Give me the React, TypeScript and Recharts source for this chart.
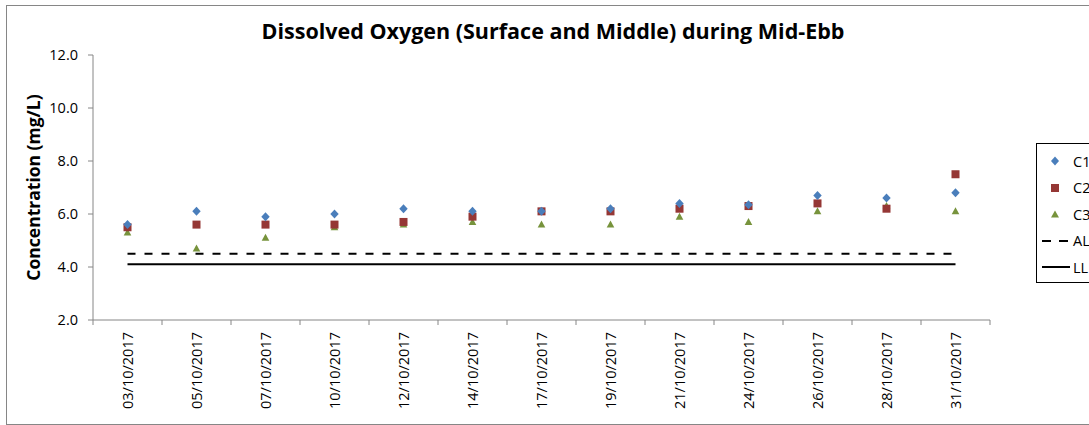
import { ComposedChart, Scatter, Line, XAxis, YAxis } from 'recharts'

const dates = [
  '03/10/2017',
  '05/10/2017',
  '07/10/2017',
  '10/10/2017',
  '12/10/2017',
  '14/10/2017',
  '17/10/2017',
  '19/10/2017',
  '21/10/2017',
  '24/10/2017',
  '26/10/2017',
  '28/10/2017',
  '31/10/2017'
]
const c1Values = [5.6, 6.1, 5.9, 6.0, 6.2, 6.1, 6.1, 6.2, 6.4, 6.35, 6.7, 6.6, 6.8]
const c2Values = [5.5, 5.6, 5.6, 5.6, 5.7, 5.9, 6.1, 6.1, 6.2, 6.3, 6.4, 6.2, 7.5]
const c3Values = [5.3, 4.7, 5.1, 5.5, 5.6, 5.7, 5.6, 5.6, 5.9, 5.7, 6.1, 6.3, 6.1]
const alValues = [4.5, 4.5, 4.5, 4.5, 4.5, 4.5, 4.5, 4.5, 4.5, 4.5, 4.5, 4.5, 4.5]
const llValues = [4.1, 4.1, 4.1, 4.1, 4.1, 4.1, 4.1, 4.1, 4.1, 4.1, 4.1, 4.1, 4.1]
const yTicks = [2, 4, 6, 8, 10, 12]

const C1_COLOR = '#4A7EBB'
const C2_COLOR = '#953735'
const C3_COLOR = '#77933C'
const AXIS_COLOR = '#868686'
const FONT = '"Open Sans", sans-serif'

const data = dates.map((date, i) => ({
  date,
  c1: c1Values[i],
  c2: c2Values[i],
  c3: c3Values[i],
  al: alValues[i],
  ll: llValues[i]
}))

function Diamond({ cx, cy }: any) {
  return <polygon points={`${cx},${cy - 4.5} ${cx + 4.2},${cy} ${cx},${cy + 4.5} ${cx - 4.2},${cy}`} fill={C1_COLOR} />
}

function Square({ cx, cy }: any) {
  return <rect x={cx - 4} y={cy - 4} width={8} height={8} fill={C2_COLOR} />
}

function Triangle({ cx, cy }: any) {
  return <polygon points={`${cx},${cy - 4} ${cx + 3.8},${cy + 3} ${cx - 3.8},${cy + 3}`} fill={C3_COLOR} />
}

function DateTick(props: any) {
  const { x, y, payload, index, visibleTicksCount } = props
  const half = payload.offset || 34.5
  const axisY = y - 11
  return (
    <g>
      <line x1={x - half} y1={axisY} x2={x - half} y2={axisY + 5} stroke={AXIS_COLOR} />
      {index === visibleTicksCount - 1 && (
        <line x1={x + half} y1={axisY} x2={x + half} y2={axisY + 5} stroke={AXIS_COLOR} />
      )}
      <text
        x={x}
        y={y + 1}
        dy="0.36em"
        transform={`rotate(-90, ${x}, ${y + 1})`}
        textAnchor="end"
        fontSize={14.5}
        fontFamily={FONT}
        fill="#000"
      >
        {payload.value}
      </text>
    </g>
  )
}

function YTitle(props: any) {
  const vb = props.viewBox
  const cy = vb.y + vb.height / 2
  return (
    <text
      x={33}
      y={cy}
      transform={`rotate(-90, 33, ${cy})`}
      textAnchor="middle"
      dominantBaseline="central"
      fontSize={17.5}
      fontWeight="bold"
      fontFamily={FONT}
      fill="#000"
    >
      Concentration (mg/L)
    </text>
  )
}

function LegendBox() {
  const row = { display: 'flex', alignItems: 'center', height: 26.5 }
  const icon = { width: 36, display: 'flex', justifyContent: 'center' }
  const lineIcon = { width: 36, display: 'flex', justifyContent: 'flex-start', paddingLeft: 5, boxSizing: 'border-box' as const }
  return (
    <div
      style={{
        position: 'absolute',
        left: 1036,
        top: 143,
        border: '1px solid #000',
        background: '#fff',
        width: 80,
        height: 140,
        boxSizing: 'border-box',
        paddingTop: 4,
        fontFamily: FONT,
        fontSize: 14.5,
        color: '#000'
      }}
    >
      <div style={row}>
        <div style={icon}>
          <svg width={10} height={10}><polygon points="5,0.5 9,5 5,9.5 1,5" fill={C1_COLOR} /></svg>
        </div>
        <span>C1</span>
      </div>
      <div style={row}>
        <div style={icon}>
          <svg width={10} height={10}><rect x={1} y={1} width={8} height={8} fill={C2_COLOR} /></svg>
        </div>
        <span>C2</span>
      </div>
      <div style={row}>
        <div style={icon}>
          <svg width={10} height={10}><polygon points="5,1.5 9,8.5 1,8.5" fill={C3_COLOR} /></svg>
        </div>
        <span>C3</span>
      </div>
      <div style={row}>
        <div style={lineIcon}>
          <svg width={28} height={6}><line x1={0} y1={3} x2={28} y2={3} stroke="#000" strokeWidth={2.2} strokeDasharray="9 8" /></svg>
        </div>
        <span>AL</span>
      </div>
      <div style={row}>
        <div style={lineIcon}>
          <svg width={28} height={6}><line x1={0} y1={3} x2={28} y2={3} stroke="#000" strokeWidth={2} /></svg>
        </div>
        <span>LL</span>
      </div>
    </div>
  )
}

export default function App() {
  return (
    <div
      style={{
        position: 'absolute',
        left: 0,
        top: 0,
        width: 1089,
        height: 425,
        overflow: 'hidden',
        background: '#fff'
      }}
    >
      <div
        style={{
          position: 'absolute',
          left: 6,
          top: 5,
          width: 1100,
          height: 418,
          border: '1px solid ' + AXIS_COLOR
        }}
      />
      <div
        style={{
          position: 'absolute',
          left: 0,
          top: 16,
          width: 1106,
          textAlign: 'center',
          fontFamily: FONT,
          fontWeight: 'bold',
          fontSize: 21.5,
          lineHeight: '30px',
          color: '#000'
        }}
      >
        Dissolved Oxygen (Surface and Middle) during Mid-Ebb
      </div>
      <ComposedChart
        width={1089}
        height={425}
        data={data}
        margin={{ top: 55, right: 99, left: 0, bottom: 0 }}
        style={{ position: 'absolute', left: 0, top: 0 }}
      >
        <XAxis
          dataKey="date"
          scale="band"
          interval={0}
          height={105}
          tickSize={5}
          tickMargin={6}
          tickLine={false}
          axisLine={{ stroke: AXIS_COLOR }}
          tick={<DateTick />}
        />
        <YAxis
          type="number"
          domain={[2, 12]}
          ticks={yTicks}
          width={93}
          tickSize={5}
          tickMargin={10}
          tickFormatter={(v: number) => v.toFixed(1)}
          axisLine={{ stroke: AXIS_COLOR }}
          tickLine={{ stroke: AXIS_COLOR }}
          tick={{ fontSize: 14.5, fontFamily: FONT, fill: '#000' }}
          label={{ content: YTitle }}
        />
        <Line dataKey="al" stroke="#000" strokeWidth={2.2} strokeDasharray="8 9" dot={false} activeDot={false} isAnimationActive={false} />
        <Line dataKey="ll" stroke="#000" strokeWidth={2} dot={false} activeDot={false} isAnimationActive={false} />
        <Scatter dataKey="c3" shape={Triangle} isAnimationActive={false} />
        <Scatter dataKey="c2" shape={Square} isAnimationActive={false} />
        <Scatter dataKey="c1" shape={Diamond} isAnimationActive={false} />
      </ComposedChart>
      <LegendBox />
    </div>
  )
}
